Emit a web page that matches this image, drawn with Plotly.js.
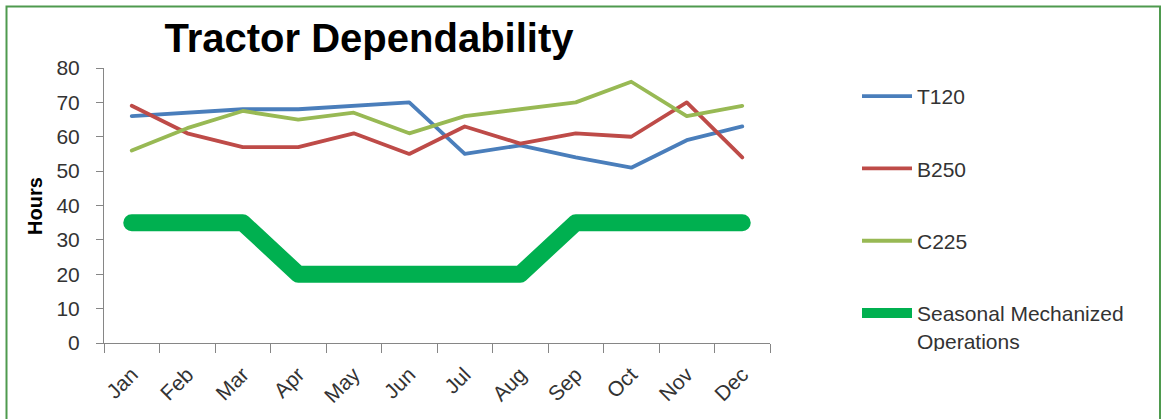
<!DOCTYPE html>
<html>
<head>
<meta charset="utf-8">
<script src="https://cdn.plot.ly/plotly-3.0.1.min.js"></script>
<style>
  html, body { margin: 0; padding: 0; background: #fff; }
  #chart { width: 1161px; height: 419px; }
</style>
</head>
<body>
<div id="chart"></div>
<script>
const months = ["Jan","Feb","Mar","Apr","May","Jun","Jul","Aug","Sep","Oct","Nov","Dec"];
const t120 = [66, 67, 68, 68, 69, 70, 55, 57.5, 54, 51, 59, 63];
const b250 = [69, 61, 57, 57, 61, 55, 63, 58, 61, 60, 70, 54];
const c225 = [56, 62.5, 67.5, 65, 67, 61, 66, 68, 70, 76, 66, 69];
const seasonal = [35, 35, 35, 20, 20, 20, 20, 20, 35, 35, 35, 35];
const seriesNames = ["T120", "B250", "C225", "Seasonal Mechanized<br>Operations"];
const yTicks = [0, 10, 20, 30, 40, 50, 60, 70, 80];

const W = 1161, H = 419;
const M = { l: 104, r: 391, t: 68, b: 76 };
const plotW = W - M.l - M.r, plotH = H - M.t - M.b;
const px2x = p => (p - M.l) / plotW;
const px2y = p => (H - M.b - p) / plotH;

const FONT = "Liberation Sans, Arial, sans-serif";

function mk(name, y, color, width, group) {
  return {
    type: "scatter", mode: "lines", x: months, y: y, name: name,
    legendgroup: group,
    line: { color: color, width: width },
    hoverinfo: "skip"
  };
}

const data = [
  mk(seriesNames[0], t120, "#4A7EBB", 3.8, "a"),
  mk(seriesNames[1], b250, "#BE4B48", 3.8, "b"),
  mk(seriesNames[2], c225, "#98B954", 3.8, "c"),
  mk(seriesNames[3], seasonal, "#00B050", 17, "d")
];

const layout = {
  width: W, height: H,
  margin: M,
  paper_bgcolor: "#ffffff",
  plot_bgcolor: "#ffffff",
  font: { family: FONT, color: "#333333" },
  title: {
    text: "<b>Tractor Dependability</b>",
    font: { family: FONT, size: 40, color: "#000000" },
    x: 369 / W, xanchor: "center", xref: "container",
    y: 1 - 38 / H, yanchor: "middle", yref: "container"
  },
  xaxis: {
    type: "category",
    range: [-0.5, 11.5],
    tickson: "boundaries",
    ticks: "outside", ticklen: 9, tickcolor: "#868686", tickwidth: 1,
    showline: true, linecolor: "#868686", linewidth: 1,
    showgrid: false, zeroline: false,
    tickangle: -45,
    ticklabelstandoff: 10,
    tickfont: { family: FONT, size: 21, color: "#333333" }
  },
  yaxis: {
    range: [0, 80],
    tickvals: yTicks,
    ticktext: yTicks.map(String),
    ticks: "outside", ticklen: 7, tickcolor: "#868686", tickwidth: 1,
    showline: true, linecolor: "#868686", linewidth: 1,
    showgrid: false, zeroline: false,
    ticklabelstandoff: 12,
    tickfont: { family: FONT, size: 21, color: "#333333" }
  },
  showlegend: true,
  legend: {
    x: px2x(857), xanchor: "left",
    y: px2y(76), yanchor: "top",
    traceorder: "grouped",
    tracegroupgap: 42,
    valign: "top",
    itemwidth: 50,
    font: { family: FONT, size: 21, color: "#333333" },
    bgcolor: "rgba(0,0,0,0)"
  },
  annotations: [{
    text: "<b>Hours</b>",
    xref: "paper", yref: "paper",
    x: px2x(35), y: px2y(206),
    xanchor: "center", yanchor: "middle",
    textangle: -90, showarrow: false,
    font: { family: FONT, size: 20, color: "#000000" }
  }],
  shapes: [{
    type: "rect", xref: "paper", yref: "paper", layer: "below",
    x0: px2x(6.5), x1: px2x(1160), y0: px2y(440), y1: px2y(6.5),
    line: { color: "#4E9A4E", width: 2 }, fillcolor: "rgba(0,0,0,0)"
  }]
};

Plotly.newPlot("chart", data, layout, { staticPlot: true, displayModeBar: false }).then(gd => {
  gd.querySelectorAll(".scatterlayer .js-line").forEach(p => {
    p.style.strokeLinecap = "round";
    p.style.strokeLinejoin = "round";
  });
});
</script>
</body>
</html>
